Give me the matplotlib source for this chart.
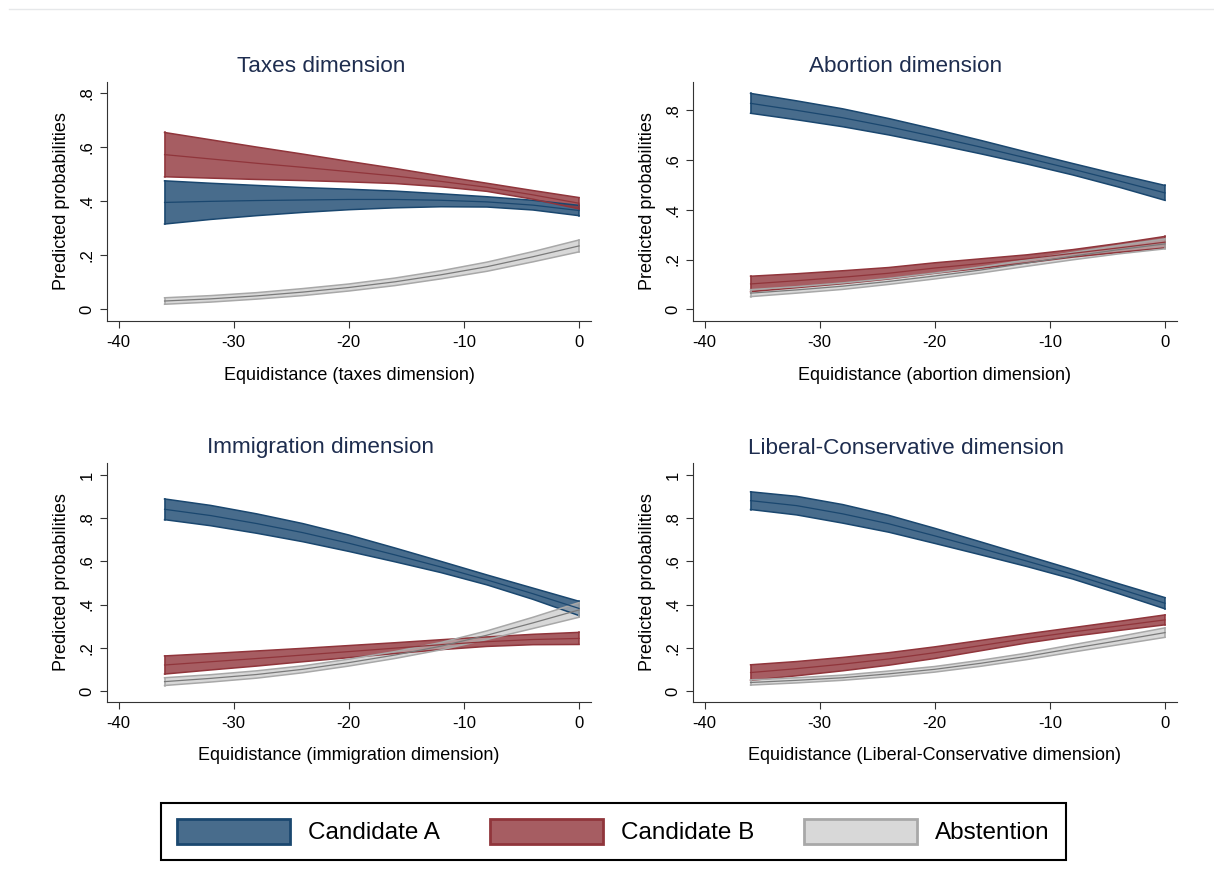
"""Predicted probabilities by equidistance, four issue dimensions (Stata-style panels)."""

import matplotlib.pyplot as plt
import numpy as np
from matplotlib.lines import Line2D
from matplotlib.patches import Patch

plt.rcParams["font.family"] = ["Liberation Sans", "DejaVu Sans"]

# equidistance values where predictions were read
X = [-36, -32, -28, -24, -20, -16, -12, -8, -4, 0]

# --- Taxes dimension ---
TAX_A = [0.396, 0.400, 0.403, 0.405, 0.407, 0.407, 0.404, 0.398, 0.386, 0.366]
TAX_A_CI = [0.080, 0.067, 0.056, 0.046, 0.038, 0.031, 0.024, 0.019, 0.018, 0.019]
TAX_B = [0.573, 0.557, 0.541, 0.526, 0.510, 0.494, 0.474, 0.452, 0.424, 0.393]
TAX_B_CI = [0.082, 0.071, 0.060, 0.049, 0.038, 0.028, 0.020, 0.015, 0.016, 0.021]
TAX_ABS = [0.031, 0.039, 0.050, 0.064, 0.081, 0.102, 0.128, 0.158, 0.195, 0.235]
TAX_ABS_CI = [0.012, 0.012, 0.012, 0.013, 0.013, 0.014, 0.015, 0.017, 0.019, 0.022]

# --- Abortion dimension ---
ABO_A = [0.828, 0.800, 0.770, 0.734, 0.694, 0.652, 0.608, 0.563, 0.516, 0.468]
ABO_A_CI = [0.040, 0.038, 0.036, 0.033, 0.030, 0.027, 0.024, 0.023, 0.025, 0.030]
ABO_B = [0.102, 0.115, 0.129, 0.145, 0.166, 0.184, 0.203, 0.225, 0.247, 0.270]
ABO_B_CI = [0.031, 0.028, 0.026, 0.023, 0.021, 0.019, 0.016, 0.015, 0.018, 0.023]
ABO_ABS = [0.065, 0.078, 0.093, 0.112, 0.134, 0.158, 0.186, 0.214, 0.240, 0.263]
ABO_ABS_CI = [0.014, 0.013, 0.013, 0.012, 0.012, 0.012, 0.013, 0.015, 0.017, 0.020]

# --- Immigration dimension ---
IMM_A = [0.841, 0.812, 0.775, 0.733, 0.684, 0.630, 0.574, 0.514, 0.450, 0.382]
IMM_A_CI = [0.048, 0.047, 0.045, 0.042, 0.038, 0.032, 0.026, 0.023, 0.026, 0.033]
IMM_B = [0.120, 0.135, 0.150, 0.166, 0.182, 0.198, 0.214, 0.228, 0.238, 0.243]
IMM_B_CI = [0.042, 0.038, 0.035, 0.031, 0.028, 0.025, 0.023, 0.022, 0.024, 0.028]
IMM_ABS = [0.043, 0.058, 0.076, 0.100, 0.131, 0.166, 0.207, 0.258, 0.315, 0.375]
IMM_ABS_CI = [0.018, 0.017, 0.017, 0.016, 0.016, 0.016, 0.017, 0.020, 0.026, 0.034]

# --- Liberal-Conservative dimension ---
LC_A = [0.881, 0.858, 0.820, 0.774, 0.718, 0.660, 0.601, 0.540, 0.473, 0.406]
LC_A_CI = [0.041, 0.043, 0.043, 0.039, 0.035, 0.030, 0.025, 0.022, 0.023, 0.026]
LC_B = [0.085, 0.103, 0.124, 0.148, 0.177, 0.210, 0.243, 0.273, 0.301, 0.329]
LC_B_CI = [0.036, 0.033, 0.031, 0.029, 0.027, 0.024, 0.021, 0.020, 0.021, 0.023]
LC_ABS = [0.039, 0.049, 0.061, 0.079, 0.100, 0.128, 0.160, 0.197, 0.233, 0.270]
LC_ABS_CI = [0.012, 0.012, 0.012, 0.013, 0.013, 0.014, 0.015, 0.017, 0.019, 0.022]

TITLES = ["Taxes dimension", "Abortion dimension",
          "Immigration dimension", "Liberal-Conservative dimension"]
XLABELS = ["Equidistance (taxes dimension)", "Equidistance (abortion dimension)",
           "Equidistance (immigration dimension)",
           "Equidistance (Liberal-Conservative dimension)"]
SERIES_NAMES = ["Candidate A", "Candidate B", "Abstention"]

# series styling: (fill, alpha, edge, mean line)
STYLES = [
    ("#1a476f", 0.8, "#1a476f", "#1a476f"),
    ("#90353b", 0.8, "#90353b", "#90353b"),
    ("#bfbfbf", 0.6, "#a8a8a8", "#7a7a7a"),
]
LEGEND_FILL = ["#486c8c", "#a65d62", "#d8d8d8"]

TITLE_COLOR = "#1e2d4f"
W, H = 1214, 882


def fig_rect(left, top, right, bottom):
    return [left / W, 1 - bottom / H, (right - left) / W, (bottom - top) / H]


def draw_panel(ax, series, ymax_tick, ylim, xlabel):
    x = np.array(X)
    # bands first, then mean lines on top
    for (mean, ci), (fill, alpha, edge, _) in zip(series, STYLES):
        m, c = np.array(mean), np.array(ci)
        ax.fill_between(x, m - c, m + c, facecolor=fill, alpha=alpha,
                        edgecolor="none", zorder=2)
        ax.plot(x, m - c, color=edge, lw=1.1, zorder=3)
        ax.plot(x, m + c, color=edge, lw=1.1, zorder=3)
        ax.plot([x[0], x[0]], [m[0] - c[0], m[0] + c[0]], color=edge, lw=1.1, zorder=3)
        ax.plot([x[-1], x[-1]], [m[-1] - c[-1], m[-1] + c[-1]], color=edge, lw=1.1, zorder=3)
    for (mean, _), (_, _, _, line) in zip(series, STYLES):
        ax.plot(x, mean, color=line, lw=0.9, zorder=4)

    ax.set_xlim(-41.0, 1.04)
    ax.set_ylim(*ylim)
    ax.set_xticks([-40, -30, -20, -10, 0])
    ax.set_xticklabels(["-40", "-30", "-20", "-10", "0"])
    yt = np.arange(0, ymax_tick + 0.01, 0.2)
    ax.set_yticks(yt)
    ax.set_yticklabels(["0" if v == 0 else ("1" if abs(v - 1) < 1e-9 else f"{v:.1f}"[1:])
                        for v in yt])
    for lab in ax.get_yticklabels():
        lab.set_rotation(90)
        lab.set_va("center")
    ax.tick_params(axis="both", direction="out", length=5, width=0.8,
                   color="#333333", labelsize=12, pad=4)
    ax.tick_params(axis="x", pad=5)
    for side in ("top", "right"):
        ax.spines[side].set_visible(False)
    for side in ("left", "bottom"):
        ax.spines[side].set_color("#333333")
        ax.spines[side].set_linewidth(0.8)
    ax.set_xlabel(xlabel, fontsize=13, va="center")
    ax.xaxis.set_label_coords(0.5, -0.226)
    ax.set_ylabel("Predicted probabilities", fontsize=13, va="center")
    ax.yaxis.set_label_coords(-0.093, 0.5)


def main():
    fig = plt.figure(figsize=(W / 100, H / 100), dpi=100)

    panels = [
        (fig_rect(107, 81.7, 591, 321), [(TAX_A, TAX_A_CI), (TAX_B, TAX_B_CI), (TAX_ABS, TAX_ABS_CI)],
         0.8, (-0.043, 0.843)),
        (fig_rect(693, 81.7, 1177, 321), [(ABO_A, ABO_A_CI), (ABO_B, ABO_B_CI), (ABO_ABS, ABO_ABS_CI)],
         0.8, (-0.047, 0.915)),
        (fig_rect(107, 463.3, 591, 701.7), [(IMM_A, IMM_A_CI), (IMM_B, IMM_B_CI), (IMM_ABS, IMM_ABS_CI)],
         1.0, (-0.05, 1.054)),
        (fig_rect(693, 463.3, 1177, 701.7), [(LC_A, LC_A_CI), (LC_B, LC_B_CI), (LC_ABS, LC_ABS_CI)],
         1.0, (-0.05, 1.054)),
    ]
    title_pos = [(321, 66), (906, 66), (321, 448), (906, 448)]

    for (rect, series, ymax, ylim), title, xlabel, (tx, ty) in zip(panels, TITLES, XLABELS, title_pos):
        ax = fig.add_axes(rect)
        draw_panel(ax, series, ymax, ylim, xlabel)
        fig.text(tx / W, 1 - ty / H, title, ha="center", va="center",
                 fontsize=16.2, color=TITLE_COLOR)

    handles = [Patch(facecolor=f, edgecolor=s[2] if i < 2 else "#a8a8a8", linewidth=2)
               for i, (f, s) in enumerate(zip(LEGEND_FILL, STYLES))]
    leg = fig.legend(handles, SERIES_NAMES, loc="center",
                     bbox_to_anchor=(613.5 / W, 1 - 831.5 / H), ncol=3,
                     fontsize=17.5, handlelength=4.65, handleheight=1.2,
                     handletextpad=0.74, columnspacing=2.06, borderpad=0.65,
                     fancybox=False, edgecolor="black", framealpha=1)
    leg.get_frame().set_linewidth(1.5)

    # faint border line at the top of the graph region
    fig.add_artist(Line2D([9 / W, 1], [1 - 9 / H, 1 - 9 / H], color="#e6e8ea", lw=1))

    fig.savefig("out.png", dpi=100)
    plt.close(fig)


if __name__ == "__main__":
    main()
